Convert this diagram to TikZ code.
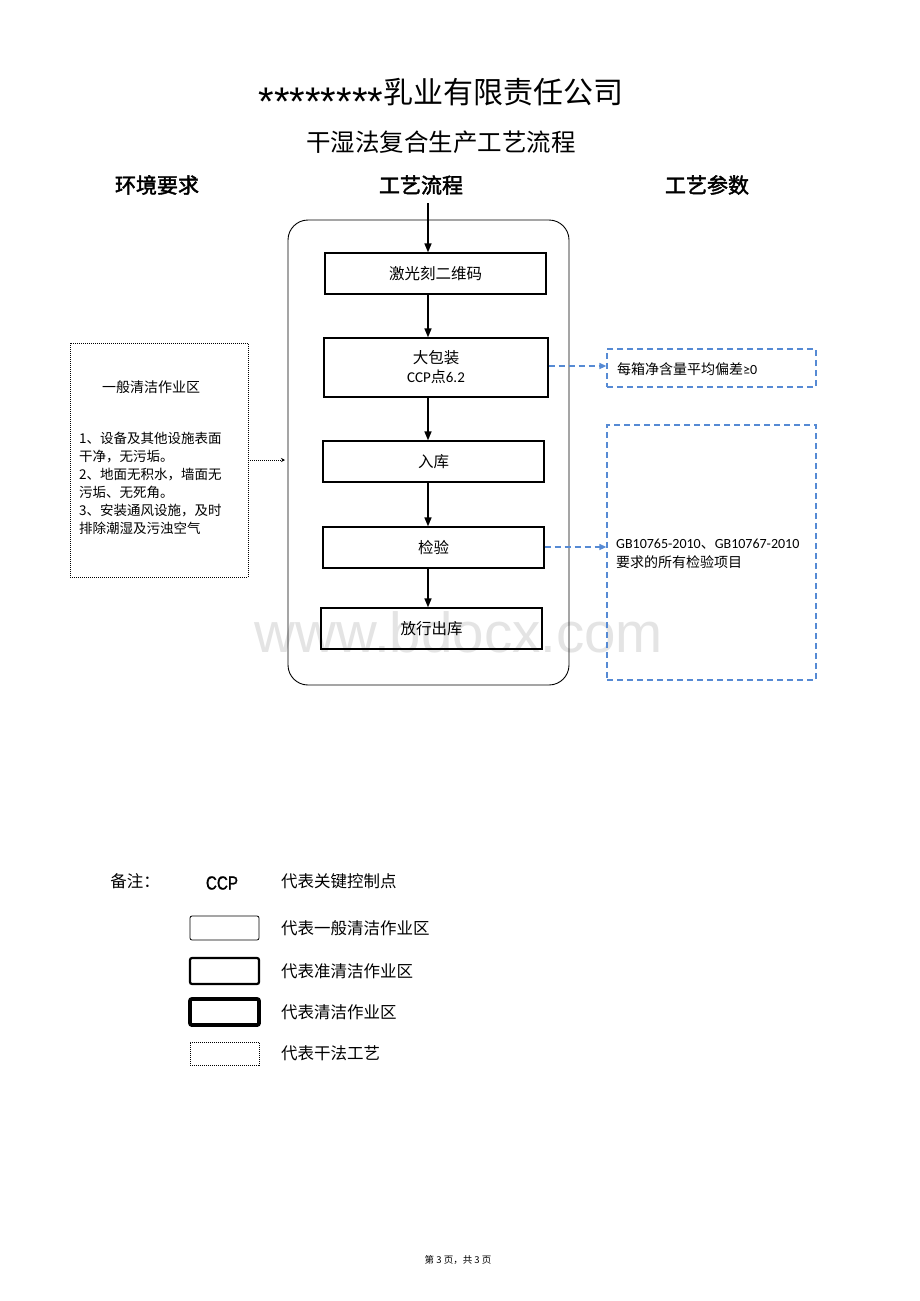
\documentclass[tikz,border=0pt]{standalone}
\usepackage{fontspec}
\usepackage{tikz}
\usetikzlibrary{positioning, arrows.meta}
\setmainfont{Noto Sans CJK SC}
\newfontfamily\calfont{Carlito}
\newfontfamily\headfont[FakeBold=2]{Noto Sans CJK SC}
\newfontfamily\narrowfont[FakeStretch=0.8,FakeBold=1]{Liberation Sans}
\newfontfamily\markfont{Liberation Sans}
\definecolor{dashblue}{RGB}{86,138,212}
\definecolor{markgray}{RGB}{228,228,228}
\newcommand\starrun{{\markfont\fontsize{40}{40}\selectfont\raisebox{-12pt}{********}}}

\begin{document}
\begin{tikzpicture}[x=1pt, y=-1pt,
    stepbox/.style={draw, line width=1.3pt, inner sep=0pt, align=center, font=\fontsize{15.5}{20}\selectfont},
    flow/.style={-{Triangle[length=9pt,width=7pt]}, line width=1.6pt},
    parbox/.style={draw=dashblue, dash pattern=on 6pt off 4pt, line width=1.3pt, inner sep=0pt},
    link/.style={draw=dashblue, dash pattern=on 6pt off 4pt, line width=1.5pt, -{Triangle[length=7pt,width=6pt]}},
    legbox/.style={draw, rounded corners=2pt, minimum width=69pt, inner sep=0pt, outer sep=0pt},
    legtext/.style={right=22pt of #1, inner sep=0pt, font=\fontsize{16.5}{18}\selectfont}]
    \useasboundingbox[fill=white] (0,0) rectangle (920,1301);

    % watermark
    \node[text=markgray, font=\markfont\fontsize{56.5}{60}\selectfont] (mark) at (459,632) {www.bdocx.com};

    % titles
    \node[anchor=base, font=\fontsize{30}{32}\selectfont] (company) at (441,103.5) {\starrun 乳业有限责任公司};
    \node[font=\fontsize{24.5}{26}\selectfont] (subtitle) at (441,142) {干湿法复合生产工艺流程};
    \node[font=\headfont\fontsize{21}{22}\selectfont] (envhead) at (157,185) {环境要求};
    \node[font=\headfont\fontsize{21}{22}\selectfont] (flowhead) at (421,185) {工艺流程};
    \node[font=\headfont\fontsize{21}{22}\selectfont] (parhead) at (707,185) {工艺参数};

    % process zone
    \node[draw, line width=0.9pt, rounded corners=20pt, minimum width=281pt, minimum height=465pt] (zone) at (428.5,452.5) {};
    \coordinate (top) at (428,203);

    \node[stepbox, minimum width=221pt, minimum height=41pt] (laser) at (435.5,273.5) {激光刻二维码};
    \node[stepbox, minimum width=224pt, minimum height=59pt] (pack) at (436,367.5)
        {大包装\\[-1pt]{\fontsize{15}{16}\selectfont\calfont CCP}{\fontsize{15}{16}\selectfont 点}{\fontsize{15}{16}\selectfont\calfont 6.2}};
    \node[stepbox, minimum width=221pt, minimum height=41pt] (store) at (433.5,461.5) {入库};
    \node[stepbox, minimum width=221pt, minimum height=41pt] (inspect) at (433.5,547.5) {检验};
    \node[stepbox, minimum width=221pt, minimum height=41pt] (release) at (431.5,628.5) {放行出库};

    \draw[flow] (top) -- (laser.north -| top);
    \draw[flow] (laser.south -| top) -- (pack.north -| top);
    \draw[flow] (pack.south -| top) -- (store.north -| top);
    \draw[flow] (store.south -| top) -- (inspect.north -| top);
    \draw[flow] (inspect.south -| top) -- (release.north -| top);

    % environment
    \node[draw, dash pattern=on 1pt off 1pt, line width=0.8pt, minimum width=178pt, minimum height=234pt] (env) at (159,460) {};
    \node[font=\fontsize{14}{16}\selectfont] (envtitle) at (151,387) {一般清洁作业区};
    \node[anchor=north west, inner sep=0pt, align=left, font=\fontsize{13.5}{18}\selectfont] (envlist) at (79,432)
        {1、设备及其他设施表面\\干净，无污垢。\\2、地面无积水，墙面无\\污垢、无死角。\\3、安装通风设施，及时\\排除潮湿及污浊空气};
    \coordinate (envtip) at (285,460);
    \draw[dash pattern=on 1pt off 1pt, line width=0.8pt, -{Stealth[length=4pt,width=4pt]}] (env.east) -- (envtip);

    % parameters
    \node[parbox, minimum width=209pt, minimum height=38pt] (weight) at (711.5,368) {};
    \node[anchor=west, inner sep=0pt, font=\fontsize{14}{16}\selectfont] (weighttext) at (617,369) {每箱净含量平均偏差{\calfont ≥0}};
    \node[parbox, minimum width=209pt, minimum height=255pt] (spec) at (711.5,552.5) {};
    \node[anchor=west, inner sep=0pt, align=left, font=\fontsize{14}{18.5}\selectfont] (spectext) at (616,554)
        {{\calfont GB10765-2010}、{\calfont GB10767-2010}\\要求的所有检验项目};
    \draw[link] ([yshift=1.5pt]pack.east) -- ([yshift=1.5pt]pack.east -| weight.west);
    \draw[link] ([yshift=0.5pt]inspect.east) -- ([yshift=0.5pt]inspect.east -| spec.west);

    % legend
    \node[font=\fontsize{16.5}{18}\selectfont] (note) at (135,881) {备注：};
    \node[font=\narrowfont\fontsize{19}{20}\selectfont] (ccp) at (222,883) {CCP};
    \node[anchor=west, inner sep=0pt, font=\fontsize{16.5}{18}\selectfont] (ccptext) at (281,881) {代表关键控制点};
    \node[legbox, line width=0.8pt, minimum height=24pt] (legnormal) at (224.5,928) {};
    \node[legbox, line width=2.2pt, minimum height=26pt] (legsemi) at (224.5,971) {};
    \node[legbox, line width=3.8pt, minimum height=26pt] (legclean) at (224.5,1012) {};
    \node[legbox, rounded corners=0pt, dash pattern=on 1pt off 1pt, line width=1pt, minimum height=23pt] (legdry) at (224.5,1053.5) {};
    \node[legtext=legnormal] (normaltext) {代表一般清洁作业区};
    \node[legtext=legsemi] (semitext) {代表准清洁作业区};
    \node[legtext=legclean] (cleantext) {代表清洁作业区};
    \node[legtext=legdry] (drytext) {代表干法工艺};

    % footer
    \node[font=\fontsize{9.5}{10}\selectfont] (footer) at (458,1260) {第 3 页，共 3 页};
\end{tikzpicture}
\end{document}
